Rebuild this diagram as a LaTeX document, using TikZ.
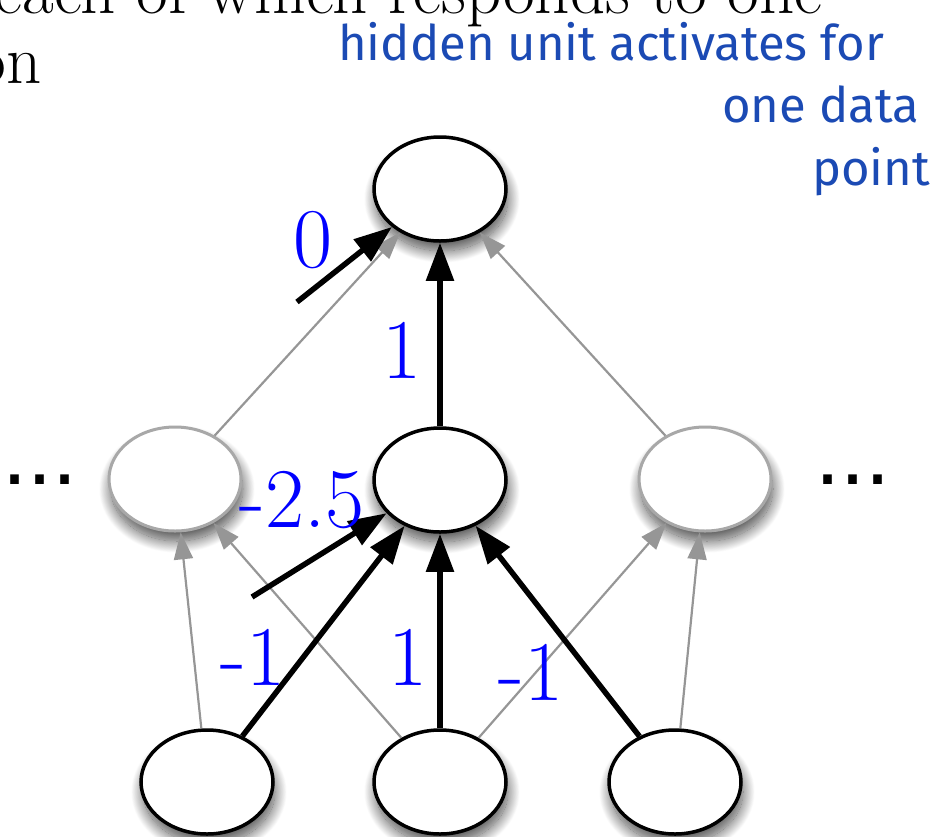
\documentclass[tikz,border=0pt]{standalone}
\usepackage{fontspec}
\newfontfamily\handfont{Fira Sans}
\newfontfamily\dotfont{Liberation Sans}
\usepackage{xcolor}
\definecolor{inkblue}{RGB}{27,74,180}
\definecolor{ghostline}{RGB}{168,168,168}
\definecolor{ghostarrow}{RGB}{150,150,150}
\usetikzlibrary{arrows.meta}
\usetikzlibrary{shapes.geometric}
\usetikzlibrary{shadows.blur}

\begin{document}
\begin{tikzpicture}[x=1pt,y=-1pt,
    unit/.style={ellipse, draw=black, line width=3.5pt, fill=white,
      minimum width=132pt, minimum height=104pt, inner sep=0pt,
      blur shadow={shadow xshift=2pt, shadow yshift=-10pt,
        shadow blur radius=12pt, shadow blur steps=30, shadow opacity=70}},
    ghost/.style={unit, draw=ghostline, line width=3pt},
    wt/.style={text=blue, inner sep=0pt, font=\fontsize{85}{90}\selectfont},
    slide/.style={anchor=base east, inner sep=0pt, font=\fontsize{69}{72}\selectfont},
    hand/.style={anchor=base west, inner sep=0pt, text=inkblue,
      font=\handfont\fontsize{49}{52}\selectfont},
    more/.style={anchor=base, inner sep=0pt, font=\dotfont\fontsize{90}{90}\selectfont},
    strong/.style={draw=black, line width=5.5pt, -{Triangle[length=38pt,width=27pt]}},
    weak/.style={draw=ghostarrow, line width=2.2pt, -{Triangle[length=27pt,width=19pt]}}]
  \useasboundingbox (0,0) rectangle (942,836);

  \node[slide] (line1) at (823,13) {each of which responds to one};
  \node[slide] (line2) at (42,83) {on};
  \node[hand] (note1) at (338,60) {hidden unit activates for};
  \node[hand] (note2) at (722,122) {one data};
  \node[hand] (note3) at (812,185) {point};

  \node[unit] (top) at (440,189) {};
  \node[ghost] (hl) at (175,479) {};
  \node[unit] (hm) at (440,480) {};
  \node[ghost] (hr) at (705,479) {};
  \node[unit] (xl) at (207,782) {};
  \node[unit] (xm) at (440,782) {};
  \node[unit] (xr) at (675,782) {};
  \node[more] (ldots) at (40,484) {...};
  \node[more] (rdots) at (853,484) {...};
  \coordinate (b0) at (297,302);
  \coordinate (b1) at (252,597);

  \draw[weak] (hl) -- (top);
  \draw[weak] (hr) -- (top);
  \draw[weak] (xl) -- (hl);
  \draw[weak] (xm) -- (hl);
  \draw[weak] (xm) -- (hr);
  \draw[weak] (xr) -- (hr);
  \draw[strong] (hm) -- (top);
  \draw[strong] (b0) -- (top);
  \draw[strong] (b1) -- (hm);
  \draw[strong] (xl) -- (hm);
  \draw[strong] (xm) -- (hm);
  \draw[strong] (xr) -- (hm);

  \node[wt] (w0) at (313,240) {0};
  \node[wt] (w1) at (402,350) {1};
  \node[wt] (w2) at (302,500) {-2.5};
  \node[wt] (w3) at (253,657) {-1};
  \node[wt] (w4) at (408,657) {1};
  \node[wt] (w5) at (531,672) {-1};
\end{tikzpicture}
\end{document}
